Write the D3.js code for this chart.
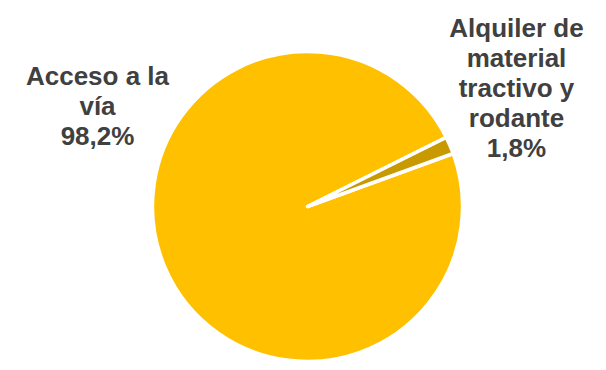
<!DOCTYPE html>
<html>
<head>
<meta charset="utf-8">
<script src="https://cdn.jsdelivr.net/npm/d3@7"></script>
<style>
  body { margin: 0; background: #fff; }
  text { font-family: "Liberation Sans", Arial, sans-serif; font-weight: bold; fill: #404040; }
</style>
</head>
<body>
<script>
var categories = ["Acceso a la vía", "Alquiler de material tractivo y rodante"];
var values = [98.2, 1.8];
var labelLines = [["Acceso a la", "vía", "98,2%"], ["Alquiler de", "material", "tractivo y", "rodante", "1,8%"]];
var colors = ["#FFC000", "#C99A00"];

function init() {
    var w = 606;
    var h = 370;
    var cx = 307.5, cy = 206.5, r = 155;
    var startDeg = 70;

    var svg = d3.select("body").append("svg")
        .attr("width", w)
        .attr("height", h);

    var pie = d3.pie().sort(null)
        .startAngle(startDeg * Math.PI / 180)
        .endAngle(startDeg * Math.PI / 180 + 2 * Math.PI);
    var arc = d3.arc().innerRadius(0).outerRadius(r);

    var g = svg.append("g").attr("transform", "translate(" + cx + "," + cy + ")");
    g.selectAll("path")
        .data(pie(values))
        .enter()
        .append("path")
        .attr("d", arc)
        .attr("fill", function (d, i) { return colors[i]; })
        .attr("stroke", "#fff")
        .attr("stroke-width", 3.5)
        .attr("stroke-linejoin", "round");

    // label anchor positions (centre x, first baseline y)
    var labelPos = [[97.5, 85], [516.5, 37]];
    var lineH = 30;
    labelLines.forEach(function (lines, i) {
        var t = svg.append("text")
            .attr("text-anchor", "middle")
            .attr("font-size", 26)
            .attr("x", labelPos[i][0])
            .attr("y", labelPos[i][1]);
        lines.forEach(function (ln, j) {
            t.append("tspan")
                .attr("x", labelPos[i][0])
                .attr("y", labelPos[i][1] + j * lineH)
                .text(ln);
        });
    });
}
window.onload = init;
</script>
</body>
</html>
